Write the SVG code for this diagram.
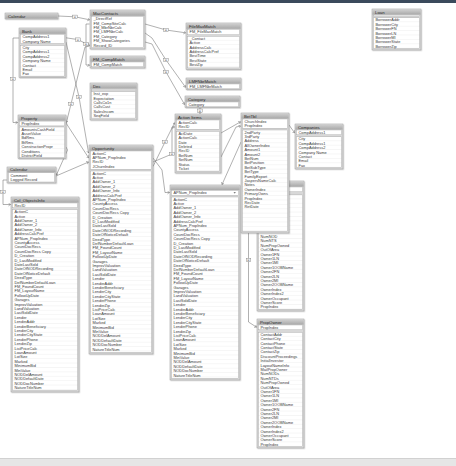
<svg xmlns="http://www.w3.org/2000/svg" width="456" height="466" viewBox="0 0 456 466">
<defs>
<style>
.fr{fill:#d8d8d8;stroke:#9c9c9c;stroke-width:.5;filter:url(#sh)}
.hd{fill:url(#hg)}
.bx{fill:#fff;stroke:#a4a4a4;stroke-width:.4}
.rw{fill:url(#rp);stroke:#a4a4a4;stroke-width:.4}
.ht{font-family:"Liberation Sans",Arial,sans-serif;font-size:4.3px;fill:#2b2b2b}
.t{font-family:"Liberation Sans",Arial,sans-serif;font-size:3.9px;fill:#3a3a3a}
.cn{fill:none;stroke:#707070;stroke-width:.55;marker-end:url(#ar)}
.lb{fill:#f4f4f4;stroke:#7a7a7a;stroke-width:.4}
.lt{font-family:"Liberation Sans",Arial,sans-serif;font-size:3px;fill:#444;text-anchor:middle}
</style>
<linearGradient id="hg" x1="0" y1="0" x2="0" y2="1"><stop offset="0" stop-color="#d0d0d0"/><stop offset="1" stop-color="#a8a8a8"/></linearGradient>
<pattern id="rp" width="20" height="4.4" patternUnits="userSpaceOnUse"><rect width="20" height="4.4" fill="#fff"/><rect y="4.1" width="20" height=".35" fill="#e4e4e4"/></pattern>
<filter id="sh" x="-10%" y="-10%" width="130%" height="130%"><feDropShadow dx=".7" dy=".7" stdDeviation=".5" flood-color="#000" flood-opacity=".25"/></filter>
<marker id="ar" markerWidth="4" markerHeight="4" refX="2.2" refY="1.5" orient="auto" markerUnits="userSpaceOnUse"><path d="M0,0 L2.2,1.5 L0,3" fill="none" stroke="#555" stroke-width=".4"/></marker>
</defs>
<rect width="456" height="466" fill="#fff"/>
<rect width="456" height="3" fill="#3b4a5c"/>
<rect y="458" width="456" height="8" fill="#e6e6e6"/>
<rect y="458" width="456" height=".6" fill="#c4c4c4"/>

<g id="connectors">
<path class="cn" d="M58,16 L75,16.8 L89.6,19.8"/>
<path class="cn" d="M66,37.8 L78,39.6 L89.6,45.5"/>
<path class="cn" d="M66,42 L79,97 L88.6,153"/>
<path class="cn" d="M89.6,24 L86,24 L86,65 L89.6,65.2"/>
<path class="cn" d="M89.6,46 L85,47 L71,104 L66.4,122.5"/>
<path class="cn" d="M19,38 L13,38 L13,122.5 L17.6,122.5"/>
<path class="cn" d="M66,123 L88.6,157.8"/>
<path class="cn" d="M66,147 L67.5,150 L56.4,175"/>
<path class="cn" d="M56,176 L88.6,162"/>
<path class="cn" d="M7,180 L3,180 L3,204.5 L10.6,204.5"/>
<path class="cn" d="M145,24 L166,30 L185.6,32.8"/>
<path class="cn" d="M145,33 L152,38 L166,60 L185.6,87.3"/>
<path class="cn" d="M145,42 L152,44 L166,72 L184.6,104.5"/>
<path class="cn" d="M200,107.5 L200,113.6"/>
<path class="cn" d="M153,166.5 L165,142 L174.6,122.8"/>
<path class="cn" d="M153,162 L172,154 L172,127 L174.6,127"/>
<path class="cn" d="M153,158 L162,170 L165,192.5 L169.6,192.5"/>
<path class="cn" d="M221,133 L240.6,121.8"/>
<path class="cn" d="M221,157 L236,127 L240.6,126"/>
<path class="cn" d="M241,142 L222,184.6"/>
<path class="cn" d="M289,125 L294.6,132.8"/>
<path class="cn" d="M248.5,233 L248.5,322 L256.6,327.2"/>
<g>
<rect class="lb" x="72.7" y="15.1" width="4.6" height="3.4"/><text class="lt" x="75" y="17.8">=</text>
<rect class="lb" x="75.7" y="37.9" width="4.6" height="3.4"/><text class="lt" x="78" y="40.6">=</text>
<rect class="lb" x="83.7" y="42.3" width="4.6" height="3.4"/><text class="lt" x="86" y="45">=</text>
<rect class="lb" x="76.7" y="95.3" width="4.6" height="3.4"/><text class="lt" x="79" y="98">=</text>
<rect class="lb" x="68.7" y="102.3" width="4.6" height="3.4"/><text class="lt" x="71" y="105">=</text>
<rect class="lb" x="10.7" y="77.3" width="4.6" height="3.4"/><text class="lt" x="13" y="80">=</text>
<rect class="lb" x=".7" y="190.3" width="4.6" height="3.4"/><text class="lt" x="3" y="193">=</text>
<rect class="lb" x="163.7" y="28.3" width="4.6" height="3.4"/><text class="lt" x="166" y="31">=</text>
<rect class="lb" x="163.7" y="58.3" width="4.6" height="3.4"/><text class="lt" x="166" y="61">=</text>
<rect class="lb" x="163.7" y="70.3" width="4.6" height="3.4"/><text class="lt" x="166" y="73">=</text>
<rect class="lb" x="197.7" y="109" width="4.6" height="3.4"/><text class="lt" x="200" y="111.7">=</text>
<rect class="lb" x="162.7" y="140.3" width="4.6" height="3.4"/><text class="lt" x="165" y="143">=</text>
<rect class="lb" x="169.7" y="152.3" width="4.6" height="3.4"/><text class="lt" x="172" y="155">=</text>
<rect class="lb" x="246.2" y="258.3" width="4.6" height="3.4"/><text class="lt" x="248.5" y="261">=</text>
</g>
</g>

<g id="t-calendar" transform="translate(5,13)">
<rect class="fr" width="53" height="6"/><rect class="hd" x=".4" y=".4" width="52.2" height="5.2"/>
<text class="ht" x="3" y="4.5">Calendar</text>
</g>

<g id="t-maccontacts" transform="translate(90,10)">
<rect class="fr" width="55" height="39"/><rect class="hd" x=".4" y=".4" width="54.2" height="5.4"/>
<text class="ht" x="3" y="4.6">MacContacts</text>
<rect class="bx" x="1.5" y="6.3" width="52" height="31.4"/>
<text class="t"><tspan x="3.5" y="10.2">_DirectRef</tspan><tspan x="3.5" dy="4.4">FM_CompSiteCalc</tspan><tspan x="3.5" dy="4.4">FM_MbrNbrCalc</tspan><tspan x="3.5" dy="4.4">FM_LMFNbrCalc</tspan><tspan x="3.5" dy="4.4">FM_Category</tspan><tspan x="3.5" dy="4.4">FM_ShowCategories</tspan><tspan x="3.5" dy="4.4">Record_ID</tspan></text>
</g>

<g id="t-fmcompmatch" transform="translate(90,56)">
<rect class="fr" width="55" height="12"/><rect class="hd" x=".4" y=".4" width="54.2" height="5.2"/>
<text class="ht" x="3" y="4.5">FM_CompMatch</text>
<rect class="bx" x="1.5" y="6" width="52" height="4.8"/>
<text class="t" x="3.5" y="9.6">FM_CompMatch</text>
</g>

<g id="t-dec" transform="translate(90,83)">
<rect class="fr" width="47" height="37"/><rect class="hd" x=".4" y=".4" width="46.2" height="5.2"/>
<text class="ht" x="3" y="4.5">Dec</text>
<rect class="bx" x="1.5" y="6.2" width="44" height="1.6"/>
<g transform="translate(1.5,8.6)"><rect class="rw" width="44" height="27"/>
<text class="t"><tspan x="2" y="3.6">Inst_exp</tspan><tspan x="2" dy="4.4">Expectation</tspan><tspan x="2" dy="4.4">CallsCo1n</tspan><tspan x="2" dy="4.4">CallsCust</tspan><tspan x="2" dy="4.4">SalesIncom</tspan><tspan x="2" dy="4.4">SeqField</tspan></text></g>
</g>

<g id="t-bank" transform="translate(19,28)">
<rect class="fr" width="47" height="49.5"/><rect class="hd" x=".4" y=".4" width="46.2" height="5.4"/>
<text class="ht" x="3" y="4.6">Bank</text>
<rect class="bx" x="1.5" y="6.3" width="44" height="9.2"/>
<text class="t"><tspan x="3.5" y="10.1">CompAddress1</tspan><tspan x="3.5" dy="4.4">Company Name</tspan></text>
<g transform="translate(1.5,17.4)"><rect class="rw" width="44" height="30.8"/>
<text class="t"><tspan x="2" y="3.6">City</tspan><tspan x="2" dy="4.4">CompAddress1</tspan><tspan x="2" dy="4.4">CompAddress2</tspan><tspan x="2" dy="4.4">Company Name</tspan><tspan x="2" dy="4.4">Contact</tspan><tspan x="2" dy="4.4">Email</tspan><tspan x="2" dy="4.4">Fax</tspan></text></g>
</g>

<g id="t-property" transform="translate(18,115)">
<rect class="fr" width="48" height="43.5"/><rect class="hd" x=".4" y=".4" width="47.2" height="5.2"/>
<text class="ht" x="3" y="4.5">Property</text>
<rect class="bx" x="1.5" y="6.1" width="45" height="4.8"/>
<text class="t" x="3.5" y="9.7">PropIndex</text>
<g transform="translate(1.5,12)"><rect class="rw" width="45" height="30.8"/>
<text class="t"><tspan x="2" y="3.6">AmountsCashField</tspan><tspan x="2" dy="4.4">AssetValue</tspan><tspan x="2" dy="4.4">BdRms</tspan><tspan x="2" dy="4.4">BtRms</tspan><tspan x="2" dy="4.4">ConstructionPropr</tspan><tspan x="2" dy="4.4">Conditions</tspan><tspan x="2" dy="4.4">DistrictField</tspan></text></g>
</g>

<g id="t-calendar2" transform="translate(7,167)">
<rect class="fr" width="49" height="16"/><rect class="hd" x=".4" y=".4" width="48.2" height="5"/>
<text class="ht" x="3" y="4.4">Calendar</text>
<rect class="bx" x="1.5" y="5.8" width="46" height="9.2"/>
<text class="t"><tspan x="3.5" y="9.5">Comment</tspan><tspan x="3.5" dy="4.4">Logged Record</tspan></text>
</g>

<g id="t-colobjects" transform="translate(11,197)">
<rect class="fr" width="68" height="195"/><rect class="hd" x=".4" y=".4" width="67.2" height="5.2"/>
<text class="ht" x="3" y="4.5">Col_ObjectsInfo</text>
<rect class="bx" x="1.5" y="6" width="65" height="4.8"/>
<text class="t" x="3.5" y="9.6">RecID</text>
<g transform="translate(1.5,12.5)"><rect class="rw" width="65" height="181"/>
<text class="t"><tspan x="2" y="3.6">ActionC</tspan><tspan x="2" dy="4.4">Active</tspan><tspan x="2" dy="4.4">AddOwner_1</tspan><tspan x="2" dy="4.4">AddOwner_2</tspan><tspan x="2" dy="4.4">AddOwner_Info</tspan><tspan x="2" dy="4.4">AddressCalcPref</tspan><tspan x="2" dy="4.4">APNum_PropIndex</tspan><tspan x="2" dy="4.4">CountyAccess</tspan><tspan x="2" dy="4.4">CountDocRecs</tspan><tspan x="2" dy="4.4">CountDocRecs Copy</tspan><tspan x="2" dy="4.4">D_Creation</tspan><tspan x="2" dy="4.4">D_LastModified</tspan><tspan x="2" dy="4.4">DateLastSold</tspan><tspan x="2" dy="4.4">DateOfNODRecording</tspan><tspan x="2" dy="4.4">DateOfNoticeDefault</tspan><tspan x="2" dy="4.4">DeedType</tspan><tspan x="2" dy="4.4">DefNumberDefaultLoan</tspan><tspan x="2" dy="4.4">FM_FoundCount</tspan><tspan x="2" dy="4.4">FM_LayoutName</tspan><tspan x="2" dy="4.4">FollowUpDate</tspan><tspan x="2" dy="4.4">Garages</tspan><tspan x="2" dy="4.4">ImprovValuation</tspan><tspan x="2" dy="4.4">LandValuation</tspan><tspan x="2" dy="4.4">LastSoldDate</tspan><tspan x="2" dy="4.4">Lender</tspan><tspan x="2" dy="4.4">LenderAddr</tspan><tspan x="2" dy="4.4">LenderBeneficiary</tspan><tspan x="2" dy="4.4">LenderCity</tspan><tspan x="2" dy="4.4">LenderCityState</tspan><tspan x="2" dy="4.4">LenderPhone</tspan><tspan x="2" dy="4.4">LenderZip</tspan><tspan x="2" dy="4.4">ListPriceCalc</tspan><tspan x="2" dy="4.4">LoanAmount</tspan><tspan x="2" dy="4.4">LotSize</tspan><tspan x="2" dy="4.4">Marked</tspan><tspan x="2" dy="4.4">MinimumBid</tspan><tspan x="2" dy="4.4">MinValue</tspan><tspan x="2" dy="4.4">NODDelAmount</tspan><tspan x="2" dy="4.4">NODDefaultDate</tspan><tspan x="2" dy="4.4">NODDocNumber</tspan><tspan x="2" dy="4.4">NatureTitleNum</tspan></text></g>
</g>

<g id="t-opportunity" transform="translate(89,145)">
<rect class="fr" width="64" height="209"/><rect class="hd" x=".4" y=".4" width="63.2" height="5.2"/>
<text class="ht" x="3" y="4.5">Opportunity</text>
<rect class="bx" x="1.5" y="6" width="61" height="18.2"/>
<text class="t"><tspan x="3.5" y="9.6">ActionC</tspan><tspan x="3.5" dy="4.4">APNum_PropIndex</tspan><tspan x="3.5" dy="4.4">RecID</tspan><tspan x="3.5" dy="4.4">JChurnIndex</tspan></text>
<g transform="translate(1.5,26)"><rect class="rw" width="61" height="181.4"/>
<text class="t"><tspan x="2" y="3.6">ActionC</tspan><tspan x="2" dy="4.4">Active</tspan><tspan x="2" dy="4.4">AddOwner_1</tspan><tspan x="2" dy="4.4">AddOwner_2</tspan><tspan x="2" dy="4.4">AddOwner_Info</tspan><tspan x="2" dy="4.4">AddressCalcPref</tspan><tspan x="2" dy="4.4">APNum_PropIndex</tspan><tspan x="2" dy="4.4">CountyAccess</tspan><tspan x="2" dy="4.4">CountDocRecs</tspan><tspan x="2" dy="4.4">CountDocRecs Copy</tspan><tspan x="2" dy="4.4">D_Creation</tspan><tspan x="2" dy="4.4">D_LastModified</tspan><tspan x="2" dy="4.4">DateLastSold</tspan><tspan x="2" dy="4.4">DateOfNODRecording</tspan><tspan x="2" dy="4.4">DateOfNoticeDefault</tspan><tspan x="2" dy="4.4">DeedType</tspan><tspan x="2" dy="4.4">DefNumberDefaultLoan</tspan><tspan x="2" dy="4.4">FM_FoundCount</tspan><tspan x="2" dy="4.4">FM_LayoutName</tspan><tspan x="2" dy="4.4">FollowUpDate</tspan><tspan x="2" dy="4.4">Garages</tspan><tspan x="2" dy="4.4">ImprovValuation</tspan><tspan x="2" dy="4.4">LandValuation</tspan><tspan x="2" dy="4.4">LastSoldDate</tspan><tspan x="2" dy="4.4">Lender</tspan><tspan x="2" dy="4.4">LenderAddr</tspan><tspan x="2" dy="4.4">LenderBeneficiary</tspan><tspan x="2" dy="4.4">LenderCity</tspan><tspan x="2" dy="4.4">LenderCityState</tspan><tspan x="2" dy="4.4">LenderPhone</tspan><tspan x="2" dy="4.4">LenderZip</tspan><tspan x="2" dy="4.4">ListPriceCalc</tspan><tspan x="2" dy="4.4">LoanAmount</tspan><tspan x="2" dy="4.4">LotSize</tspan><tspan x="2" dy="4.4">Marked</tspan><tspan x="2" dy="4.4">MinimumBid</tspan><tspan x="2" dy="4.4">MinValue</tspan><tspan x="2" dy="4.4">NODDelAmount</tspan><tspan x="2" dy="4.4">NODDefaultDate</tspan><tspan x="2" dy="4.4">NODDocNumber</tspan><tspan x="2" dy="4.4">NatureTitleNum</tspan></text></g>
</g>

<g id="t-owners" transform="translate(257,181)">
<rect class="fr" width="47" height="130"/><rect class="hd" x=".4" y=".4" width="46.2" height="5.2"/>
<rect class="bx" x="1.5" y="6" width="44" height="4.8"/>
<g transform="translate(1.5,13.9)"><rect class="rw" width="44" height="114.4"/>
<text class="t"><tspan x="2" y="43.2">NumNOD</tspan><tspan x="2" dy="4.4">NumNTS</tspan><tspan x="2" dy="4.4">NumPropOwned</tspan><tspan x="2" dy="4.4">OutOfArea</tspan><tspan x="2" dy="4.4">Owner1FN</tspan><tspan x="2" dy="4.4">Owner1LN</tspan><tspan x="2" dy="4.4">Owner1MI</tspan><tspan x="2" dy="4.4">Owner1OOBName</tspan><tspan x="2" dy="4.4">Owner2FN</tspan><tspan x="2" dy="4.4">Owner2LN</tspan><tspan x="2" dy="4.4">Owner2MI</tspan><tspan x="2" dy="4.4">Owner2OOBName</tspan><tspan x="2" dy="4.4">OwnerIndex</tspan><tspan x="2" dy="4.4">OwnerIndex2</tspan><tspan x="2" dy="4.4">OwnerOccupant</tspan><tspan x="2" dy="4.4">OwnerScore</tspan><tspan x="2" dy="4.4">PropIndex</tspan></text></g>
</g>

<g id="t-center" transform="translate(170,185)">
<rect class="fr" width="70" height="195"/><rect class="hd" x=".4" y=".4" width="69.2" height="4.6"/>
<rect class="bx" x="1.5" y="5.5" width="67" height="4.8"/>
<text class="t" x="3.5" y="9.1">APNum_PropIndex</text>
<path d="M63.5,7.2 h2.4 l-1.2,1.4z" fill="#555"/>
<g transform="translate(1.5,12)"><rect class="rw" width="67" height="181.4"/>
<text class="t"><tspan x="2" y="3.6">ActionC</tspan><tspan x="2" dy="4.4">Active</tspan><tspan x="2" dy="4.4">AddOwner_1</tspan><tspan x="2" dy="4.4">AddOwner_2</tspan><tspan x="2" dy="4.4">AddOwner_Info</tspan><tspan x="2" dy="4.4">AddressCalcPref</tspan><tspan x="2" dy="4.4">APNum_PropIndex</tspan><tspan x="2" dy="4.4">CountyAccess</tspan><tspan x="2" dy="4.4">CountDocRecs</tspan><tspan x="2" dy="4.4">CountDocRecs Copy</tspan><tspan x="2" dy="4.4">D_Creation</tspan><tspan x="2" dy="4.4">D_LastModified</tspan><tspan x="2" dy="4.4">DateLastSold</tspan><tspan x="2" dy="4.4">DateOfNODRecording</tspan><tspan x="2" dy="4.4">DateOfNoticeDefault</tspan><tspan x="2" dy="4.4">DeedType</tspan><tspan x="2" dy="4.4">DefNumberDefaultLoan</tspan><tspan x="2" dy="4.4">FM_FoundCount</tspan><tspan x="2" dy="4.4">FM_LayoutName</tspan><tspan x="2" dy="4.4">FollowUpDate</tspan><tspan x="2" dy="4.4">Garages</tspan><tspan x="2" dy="4.4">ImprovValuation</tspan><tspan x="2" dy="4.4">LandValuation</tspan><tspan x="2" dy="4.4">LastSoldDate</tspan><tspan x="2" dy="4.4">Lender</tspan><tspan x="2" dy="4.4">LenderAddr</tspan><tspan x="2" dy="4.4">LenderBeneficiary</tspan><tspan x="2" dy="4.4">LenderCity</tspan><tspan x="2" dy="4.4">LenderCityState</tspan><tspan x="2" dy="4.4">LenderPhone</tspan><tspan x="2" dy="4.4">LenderZip</tspan><tspan x="2" dy="4.4">ListPriceCalc</tspan><tspan x="2" dy="4.4">LoanAmount</tspan><tspan x="2" dy="4.4">LotSize</tspan><tspan x="2" dy="4.4">Marked</tspan><tspan x="2" dy="4.4">MinimumBid</tspan><tspan x="2" dy="4.4">MinValue</tspan><tspan x="2" dy="4.4">NODDelAmount</tspan><tspan x="2" dy="4.4">NODDefaultDate</tspan><tspan x="2" dy="4.4">NODDocNumber</tspan><tspan x="2" dy="4.4">NatureTitleNum</tspan></text></g>
</g>

<g id="t-filemaxmatch" transform="translate(186,23)">
<rect class="fr" width="55" height="46.5"/><rect class="hd" x=".4" y=".4" width="54.2" height="5.4"/>
<text class="ht" x="3" y="4.6">FileMaxMatch</text>
<rect class="bx" x="1.5" y="6.3" width="52" height="5.5"/>
<text class="t" x="3.5" y="10.2">FM_FileMaxMatch</text>
<g transform="translate(1.5,13.3)"><rect class="rw" width="52" height="31.6"/>
<text class="t"><tspan x="2" y="3.6">_Contact</tspan><tspan x="2" dy="4.4">Active</tspan><tspan x="2" dy="4.4">AddressCalc</tspan><tspan x="2" dy="4.4">AddressCalcPref</tspan><tspan x="2" dy="4.4">BestTime</tspan><tspan x="2" dy="4.4">BestState</tspan><tspan x="2" dy="4.4">BestZip</tspan></text></g>
</g>

<g id="t-lmfnbrmatch" transform="translate(186,78)">
<rect class="fr" width="55" height="11.5"/><rect class="hd" x=".4" y=".4" width="54.2" height="5.2"/>
<text class="ht" x="3" y="4.5">LMFNbrMatch</text>
<rect class="bx" x="1.5" y="6" width="52" height="4.8"/>
<text class="t" x="3.5" y="9.6">FM_LMFNbrMatch</text>
</g>

<g id="t-category" transform="translate(185,96)">
<rect class="fr" width="55" height="11.5"/><rect class="hd" x=".4" y=".4" width="54.2" height="5.2"/>
<text class="ht" x="3" y="4.5">Category</text>
<rect class="bx" x="1.5" y="6" width="52" height="4.8"/>
<text class="t" x="3.5" y="9.6">Category</text>
</g>

<g id="t-actionitems" transform="translate(175,114)">
<rect class="fr" width="46" height="59"/><rect class="hd" x=".4" y=".4" width="45.2" height="5.2"/>
<text class="ht" x="3" y="4.5">Action Items</text>
<rect class="bx" x="1.5" y="6" width="43" height="9.2"/>
<text class="t"><tspan x="3.5" y="9.6">ActionCalc</tspan><tspan x="3.5" dy="4.4">RecID</tspan></text>
<g transform="translate(1.5,17.3)"><rect class="rw" width="43" height="40"/>
<text class="t"><tspan x="2" y="3.6">ActDate</tspan><tspan x="2" dy="4.4">ActionCalc</tspan><tspan x="2" dy="4.4">Date</tspan><tspan x="2" dy="4.4">Deleted</tspan><tspan x="2" dy="4.4">RecID</tspan><tspan x="2" dy="4.4">BetNum</tspan><tspan x="2" dy="4.4">SetNum</tspan><tspan x="2" dy="4.4">Status</tspan><tspan x="2" dy="4.4">Ticket</tspan></text></g>
</g>

<g id="t-bettbl" transform="translate(241,113)">
<rect class="fr" width="48" height="120"/><rect class="hd" x=".4" y=".4" width="47.2" height="5.2"/>
<text class="ht" x="3" y="4.5">BetTbl</text>
<rect class="bx" x="1.5" y="6" width="45" height="9.2"/>
<text class="t"><tspan x="3.5" y="9.6">ChurchIndex</tspan><tspan x="3.5" dy="4.4">PropIndex</tspan></text>
<g transform="translate(1.5,17)"><rect class="rw" width="45" height="101.5"/>
<text class="t"><tspan x="2" y="3.6">2ndParty</tspan><tspan x="2" dy="4.4">3rdParty</tspan><tspan x="2" dy="4.4">Address</tspan><tspan x="2" dy="4.4">AllOwnerIndex</tspan><tspan x="2" dy="4.4">Amount1</tspan><tspan x="2" dy="4.4">Amount2</tspan><tspan x="2" dy="4.4">BetNum</tspan><tspan x="2" dy="4.4">BetPosition</tspan><tspan x="2" dy="4.4">BetSubType</tspan><tspan x="2" dy="4.4">BetType</tspan><tspan x="2" dy="4.4">FamilyExport</tspan><tspan x="2" dy="4.4">JaspersNameCalc</tspan><tspan x="2" dy="4.4">Notes</tspan><tspan x="2" dy="4.4">OwnerIndex</tspan><tspan x="2" dy="4.4">PrimaryOwns</tspan><tspan x="2" dy="4.4">PropIndex</tspan><tspan x="2" dy="4.4">RecDate</tspan><tspan x="2" dy="4.4">RetDate</tspan></text></g>
</g>

<g id="t-companies" transform="translate(295,124)">
<rect class="fr" width="48" height="45"/><rect class="hd" x=".4" y=".4" width="47.2" height="5.2"/>
<text class="ht" x="3" y="4.5">Companies</text>
<rect class="bx" x="1.5" y="6" width="45" height="4.8"/>
<text class="t" x="3.5" y="9.6">CompAddress1</text>
<g transform="translate(1.5,12.8)"><rect class="rw" width="45" height="30.8"/>
<text class="t"><tspan x="2" y="3.6">City</tspan><tspan x="2" dy="4.4">CompAddress1</tspan><tspan x="2" dy="4.4">CompAddress2</tspan><tspan x="2" dy="4.4">Company Name</tspan><tspan x="2" dy="4.4">Contact</tspan><tspan x="2" dy="4.4">Email</tspan><tspan x="2" dy="4.4">Fax</tspan></text></g>
</g>

<g id="t-loan" transform="translate(372,9)">
<rect class="fr" width="49" height="41"/><rect class="hd" x=".4" y=".4" width="48.2" height="5.2"/>
<text class="ht" x="3" y="4.5">Loan</text>
<rect class="bx" x="1.5" y="6.1" width="46" height="1.4"/>
<g transform="translate(1.5,8.8)"><rect class="rw" width="46" height="30.8"/>
<text class="t"><tspan x="2" y="3.6">BorrowerAddr</tspan><tspan x="2" dy="4.4">BorrowerCity</tspan><tspan x="2" dy="4.4">BorrowerFN</tspan><tspan x="2" dy="4.4">BorrowerLN</tspan><tspan x="2" dy="4.4">BorrowerMI</tspan><tspan x="2" dy="4.4">BorrowerState</tspan><tspan x="2" dy="4.4">BorrowerZip</tspan></text></g>
</g>

<g id="t-propowner" transform="translate(257,319)">
<rect class="fr" width="47" height="129"/><rect class="hd" x=".4" y=".4" width="46.2" height="5.2"/>
<text class="ht" x="3" y="4.5">PropOwner</text>
<rect class="bx" x="1.5" y="6" width="44" height="4.8"/>
<text class="t" x="3.5" y="9.6">PropIndex</text>
<g transform="translate(1.5,13.3)"><rect class="rw" width="44" height="114.4"/>
<text class="t"><tspan x="2" y="3.6">ContactAddr</tspan><tspan x="2" dy="4.4">ContactCity</tspan><tspan x="2" dy="4.4">ContactPhone</tspan><tspan x="2" dy="4.4">ContactState</tspan><tspan x="2" dy="4.4">ContactZip</tspan><tspan x="2" dy="4.4">DiscountProceedings</tspan><tspan x="2" dy="4.4">InitialInvestor</tspan><tspan x="2" dy="4.4">LayoutNameInfo</tspan><tspan x="2" dy="4.4">MailPropOwner</tspan><tspan x="2" dy="4.4">NumNODs</tspan><tspan x="2" dy="4.4">NumNTDs</tspan><tspan x="2" dy="4.4">NumPropOwned</tspan><tspan x="2" dy="4.4">OutOfArea</tspan><tspan x="2" dy="4.4">Owner1FN</tspan><tspan x="2" dy="4.4">Owner1LN</tspan><tspan x="2" dy="4.4">Owner1MI</tspan><tspan x="2" dy="4.4">Owner1OOBName</tspan><tspan x="2" dy="4.4">Owner2FN</tspan><tspan x="2" dy="4.4">Owner2LN</tspan><tspan x="2" dy="4.4">Owner2MI</tspan><tspan x="2" dy="4.4">Owner2OOBName</tspan><tspan x="2" dy="4.4">OwnerIndex</tspan><tspan x="2" dy="4.4">OwnerIndex2</tspan><tspan x="2" dy="4.4">OwnerOccupant</tspan><tspan x="2" dy="4.4">OwnerScore</tspan><tspan x="2" dy="4.4">PropIndex</tspan></text></g>
</g>
</svg>
